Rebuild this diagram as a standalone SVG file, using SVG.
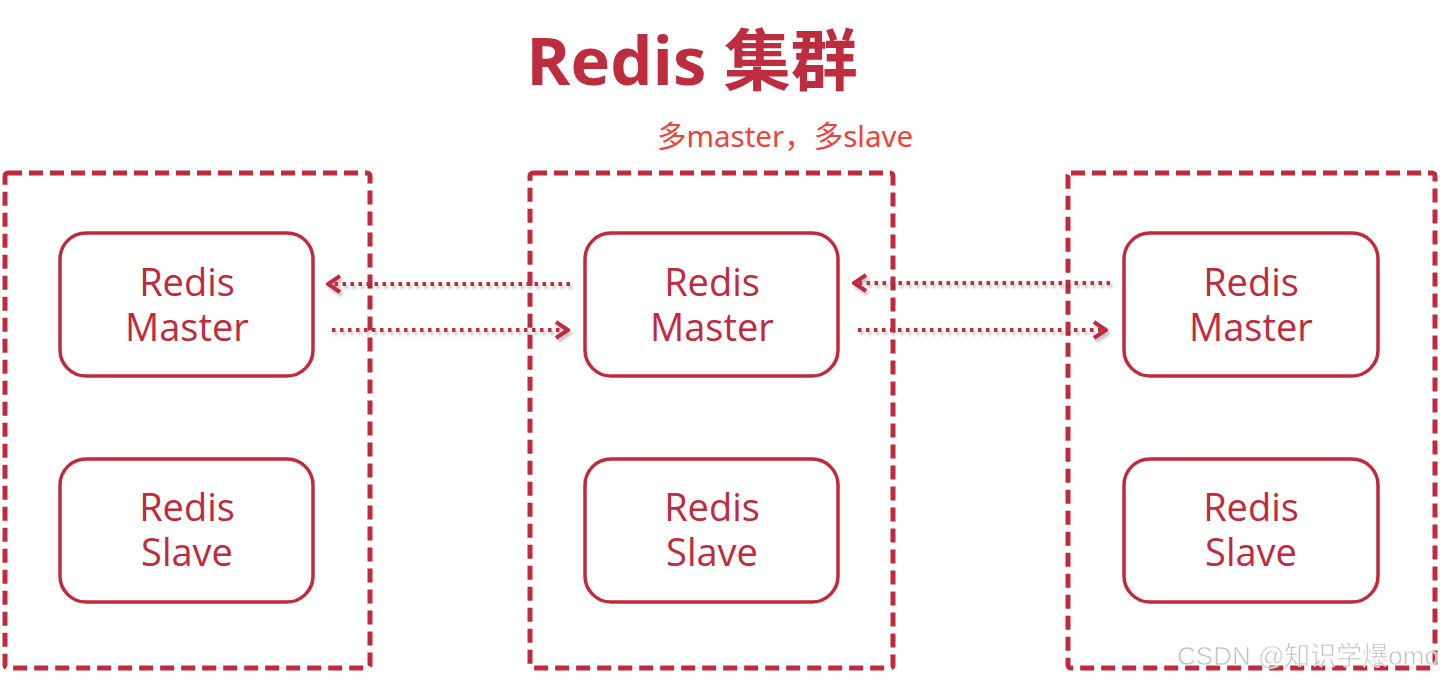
<svg xmlns="http://www.w3.org/2000/svg" width="1444" height="681" viewBox="0 0 1444 681">
<style>
.grp{fill:none;stroke:#C02A3C;stroke-width:5;stroke-dasharray:14 7}
.node{fill:#fff;stroke:#C02A3C;stroke-width:3.5}
.lbl{font-family:"Open Sans","Noto Sans",sans-serif;font-size:38px;fill:#C02A3C;text-anchor:middle}
.conn{stroke:#C02A3C;stroke-width:4;stroke-dasharray:3.5 4.5;fill:none}
</style>
<defs>
<filter id="sh" filterUnits="userSpaceOnUse" x="0" y="0" width="1444" height="681">
<feDropShadow dx="2" dy="3" stdDeviation="1.5" flood-color="#000" flood-opacity="0.25"/>
</filter>
<marker id="ah" viewBox="0 0 16 20" refX="14" refY="10" markerWidth="16" markerHeight="20" markerUnits="userSpaceOnUse" orient="auto">
<path d="M2,2 L14,10 L2,18" fill="none" stroke="#C02A3C" stroke-width="4" stroke-linejoin="miter"/>
</marker>
</defs>
<rect width="1444" height="681" fill="#fff"/>
<text x="692" y="85" font-family="'Open Sans','Noto Sans CJK SC',sans-serif" font-weight="bold" font-size="67" fill="#BE2D3E" text-anchor="middle">Redis 集群</text>
<text x="785" y="147" font-family="'Noto Sans','Noto Sans CJK SC',sans-serif" font-size="29.5" fill="#F0423C" text-anchor="middle">多master，多slave</text>

<g id="group1"><rect class="grp" x="5" y="173" width="365" height="495" rx="3"/></g>
<g id="group2"><rect class="grp" x="530" y="173" width="363" height="495" rx="3"/></g>
<g id="group3"><rect class="grp" x="1068" y="173" width="367" height="495" rx="3"/></g>

<g id="master1"><rect class="node" x="60" y="233" width="253" height="143" rx="26"/><text class="lbl" x="187" y="296">Redis</text><text class="lbl" x="187" y="341">Master</text></g>
<g id="slave1"><rect class="node" x="60" y="459" width="253" height="143" rx="26"/><text class="lbl" x="187" y="521">Redis</text><text class="lbl" x="187" y="566">Slave</text></g>
<g id="master2"><rect class="node" x="585" y="233" width="253" height="143" rx="26"/><text class="lbl" x="712" y="296">Redis</text><text class="lbl" x="712" y="341">Master</text></g>
<g id="slave2"><rect class="node" x="585" y="459" width="253" height="143" rx="26"/><text class="lbl" x="712" y="521">Redis</text><text class="lbl" x="712" y="566">Slave</text></g>
<g id="master3"><rect class="node" x="1124" y="233" width="254" height="143" rx="26"/><text class="lbl" x="1251" y="296">Redis</text><text class="lbl" x="1251" y="341">Master</text></g>
<g id="slave3"><rect class="node" x="1124" y="459" width="254" height="143" rx="26"/><text class="lbl" x="1251" y="521">Redis</text><text class="lbl" x="1251" y="566">Slave</text></g>

<g id="connectors" filter="url(#sh)">
<line class="conn" x1="570" y1="284" x2="328" y2="284" marker-end="url(#ah)"/>
<line class="conn" x1="332" y1="330" x2="568" y2="330" marker-end="url(#ah)"/>
<line class="conn" x1="1110" y1="283" x2="854" y2="283" marker-end="url(#ah)"/>
<line class="conn" x1="858" y1="330" x2="1106" y2="330" marker-end="url(#ah)"/>
</g>

<text x="1308" y="665" font-family="'Liberation Sans','Noto Sans CJK SC',sans-serif" font-size="26" fill="#bbb" stroke="#fff" stroke-width="0.6" text-anchor="middle" opacity="0.9">CSDN @知识学爆omo</text>
</svg>
